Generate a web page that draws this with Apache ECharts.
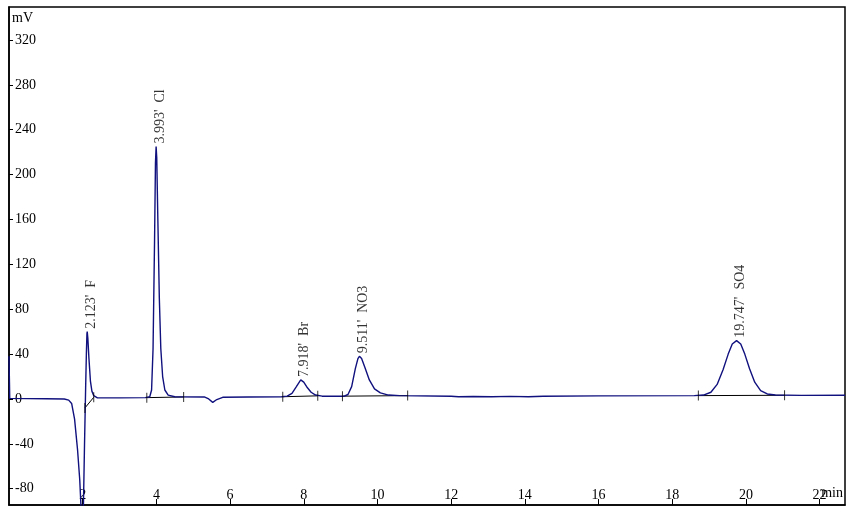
<!DOCTYPE html>
<html>
<head>
<meta charset="utf-8">
<script src="https://cdn.jsdelivr.net/npm/echarts@6/dist/echarts.min.js"></script>
<style>
  html, body { margin: 0; padding: 0; background: #fff; }
  #chart { width: 853px; height: 513px; }
</style>
</head>
<body>
<div id="chart"></div>
<script>
// 色谱图数据：时间(min) / 信号(mV)
const traceTime = [
  0, 0.02, 0.5, 1.0, 1.5, 1.62, 1.70, 1.78, 1.86, 1.92, 1.96, 1.99, 2.02, 2.05, 2.08, 2.10, 2.115, 2.123,
  2.14, 2.17, 2.21, 2.25, 2.30, 2.40, 3.00, 3.70, 3.82, 3.87, 3.91, 3.95, 3.975, 3.993, 4.01, 4.04,
  4.08, 4.12, 4.17, 4.23, 4.32, 4.50, 5.30, 5.42, 5.53, 5.64, 5.80, 6.50, 7.40, 7.55, 7.68, 7.80,
  7.918, 8.00, 8.10, 8.20, 8.32, 8.50, 9.10, 9.20, 9.30, 9.40, 9.47, 9.511, 9.57, 9.66, 9.78, 9.92,
  10.08, 10.30, 10.60, 12.0, 12.2, 12.6, 13.1, 13.6, 14.1, 14.5, 16.0, 18.6, 18.85, 19.05, 19.22,
  19.38, 19.52, 19.63, 19.747, 19.86, 19.97, 20.10, 20.24, 20.40, 20.58, 20.80, 21.5, 22.69
];
const traceMv = [
  38, 0.5, 0.3, 0.2, 0, -1, -4, -18, -45, -72, -100, -118, -95, -40, 10, 40, 58, 60,
  54, 36, 16, 7, 3, 1, 1, 1.2, 2, 8, 45, 140, 210, 225, 215, 160,
  90, 45, 20, 8, 3.5, 2, 1.8, 0, -3, -0.5, 1.5, 1.8, 2, 2.5, 5, 11,
  17, 15, 10, 6, 3.5, 2.5, 2.5, 4, 11, 27, 36, 38, 36, 28, 17, 9,
  5.5, 3.5, 3, 2.5, 2, 2.2, 2, 2.3, 2, 2.5, 2.8, 3, 3.5, 6, 13,
  26, 40, 49, 52, 49, 40, 27, 15, 7.5, 4.5, 3.5, 3.2, 3.3
];

// 峰信息
const peakNames = ['F', 'Cl', 'Br', 'NO3', 'SO4'];
const peakTimes = [2.123, 3.993, 7.918, 9.511, 19.747];
const peakHeights = [60, 225, 17, 38, 52];
// 积分基线起止
const baseStartT = [2.06, 3.74, 7.43, 9.05, 18.71];
const baseStartV = [-8, 1.2, 2, 2.5, 3];
const baseEndT = [2.30, 4.74, 8.38, 10.82, 21.05];
const baseEndV = [1.5, 1.8, 2.8, 3, 3.3];

const xTicks = [2, 4, 6, 8, 10, 12, 14, 16, 18, 20, 22];
const yTicks = [-80, -40, 0, 40, 80, 120, 160, 200, 240, 280, 320];

const font = '"Liberation Serif", "Times New Roman", serif';

const chart = echarts.init(document.getElementById('chart'));

const trace = traceTime.map((t, i) => [t, traceMv[i]]);

const baseSeries = peakNames.map((n, i) => ({
  type: 'line',
  data: [[baseStartT[i], baseStartV[i]], [baseEndT[i], baseEndV[i]]],
  showSymbol: false,
  silent: true,
  lineStyle: { color: '#000', width: 1 },
  z: 3
}));

const tickPts = [];
peakNames.forEach((n, i) => {
  tickPts.push([baseStartT[i], baseStartV[i]]);
  tickPts.push([baseEndT[i], baseEndV[i]]);
});

const option = {
  animation: false,
  backgroundColor: '#fff',
  grid: {
    left: 9, right: 8, top: 7, bottom: 8,
    show: true, borderColor: '#000', borderWidth: 1.5
  },
  xAxis: {
    type: 'value',
    min: 0, max: 22.69,
    axisLine: { show: true, onZero: false, lineStyle: { color: '#000', width: 1.5 } },
    axisTick: { show: true, inside: true, length: 6, customValues: xTicks, lineStyle: { color: '#000' } },
    axisLabel: { inside: true, margin: 3, customValues: xTicks, color: '#000', fontFamily: font, fontSize: 14 },
    splitLine: { show: false }
  },
  yAxis: {
    type: 'value',
    min: -94.5, max: 349.4,
    axisLine: { show: true, onZero: false, lineStyle: { color: '#000', width: 1.5 } },
    axisTick: { show: true, inside: true, length: 4, customValues: yTicks, lineStyle: { color: '#000' } },
    axisLabel: { inside: true, margin: 6, customValues: yTicks, color: '#000', fontFamily: font, fontSize: 14 },
    splitLine: { show: false }
  },
  graphic: [
    { type: 'text', left: 12, top: 11, style: { text: 'mV', fill: '#000', font: '14px ' + font } },
    { type: 'text', right: 10, bottom: 13, style: { text: 'min', fill: '#000', font: '14px ' + font } }
  ],
  series: [
    {
      type: 'line',
      data: trace,
      showSymbol: false,
      clip: true,
      lineStyle: { color: '#10107e', width: 1.4 },
      z: 4
    },
    ...baseSeries,
    {
      type: 'scatter',
      data: tickPts,
      symbol: 'rect',
      symbolSize: [1, 10],
      itemStyle: { color: '#000' },
      z: 5
    },
    {
      type: 'scatter',
      data: peakTimes.map((t, i) => [t, peakHeights[i], peakNames[i]]),
      symbolSize: 0,
      label: {
        show: true,
        position: 'top',
        distance: 4,
        rotate: 90,
        align: 'left',
        verticalAlign: 'middle',
        offset: [-1, 4],
        color: '#000',
        fontFamily: font,
        fontSize: 14,
        formatter: p => peakTimes[p.dataIndex].toFixed(3) + "'  " + p.value[2]
      },
      z: 6
    }
  ]
};

chart.setOption(option);
</script>
</body>
</html>
